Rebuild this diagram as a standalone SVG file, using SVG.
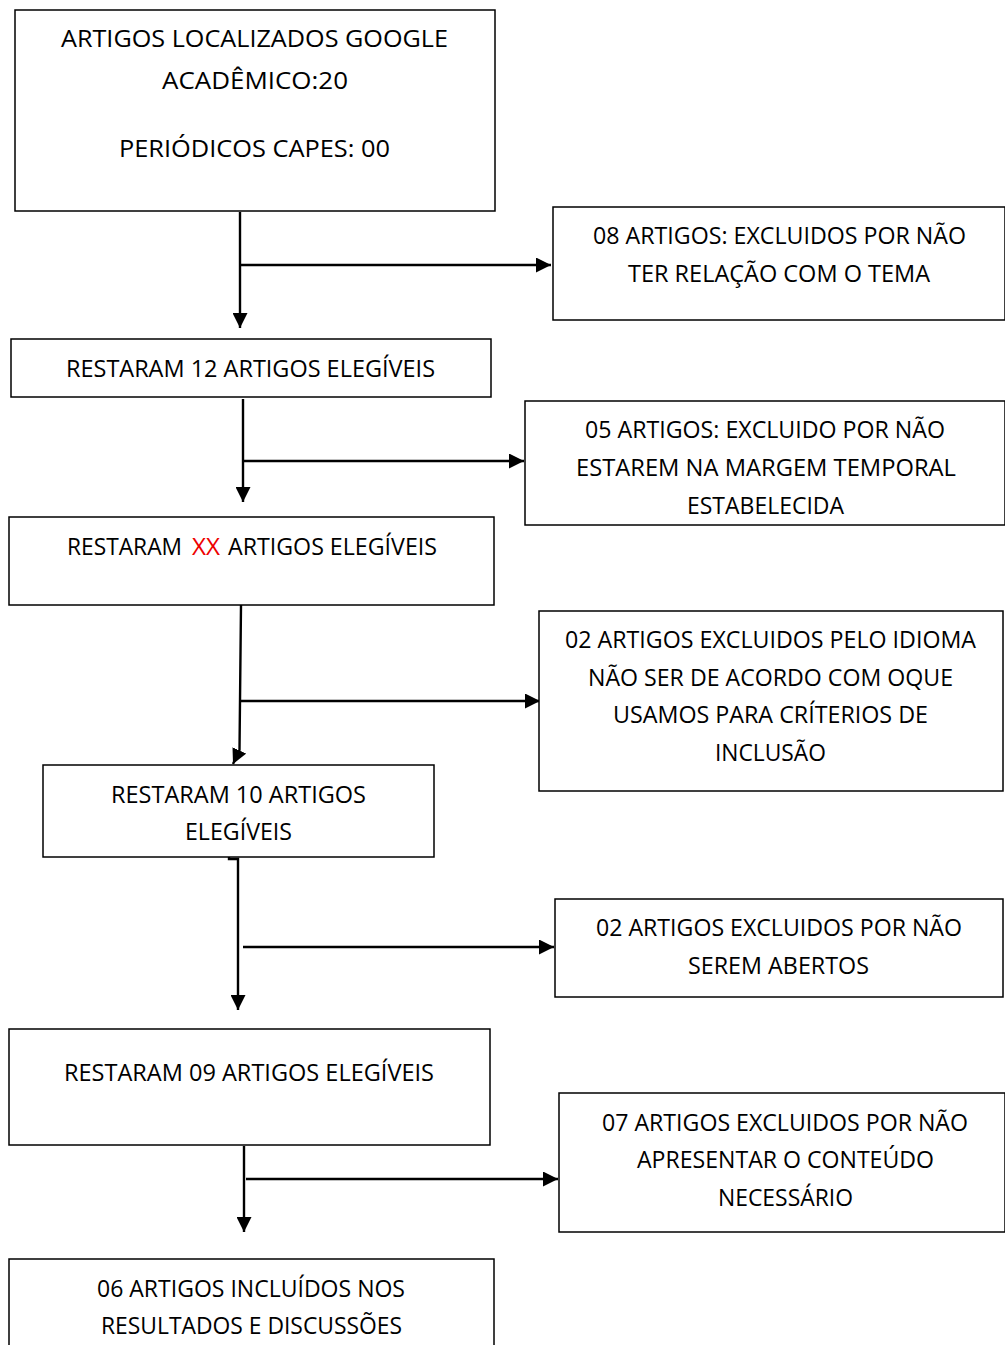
<svg xmlns="http://www.w3.org/2000/svg" width="1005" height="1345" viewBox="0 0 1005 1345">
<defs>
<style>
.box{fill:#fff;stroke:#000;stroke-width:1.5}
.t{font-family:"Open Sans","Liberation Sans",sans-serif;font-size:24.5px;fill:#000;text-anchor:middle}
.s{text-anchor:start}
.red{fill:#e00}
.c{stroke:#000;stroke-width:2.4;fill:none}
</style>
<marker id="ah" viewBox="0 0 10 10" refX="10" refY="5" markerWidth="15" markerHeight="15" markerUnits="userSpaceOnUse" orient="auto">
<path d="M0,0 L10,5 L0,10 z" fill="#000"/>
</marker>
</defs>
<rect width="1005" height="1345" fill="#fff"/>
<g id="connectors">
<line class="c" x1="240" y1="212" x2="240" y2="328" marker-end="url(#ah)"/>
<line class="c" x1="240" y1="265" x2="551" y2="265" marker-end="url(#ah)"/>
<line class="c" x1="243" y1="399" x2="243" y2="502" marker-end="url(#ah)"/>
<line class="c" x1="243" y1="461" x2="524" y2="461" marker-end="url(#ah)"/>
<path class="c" d="M241,605 L239.5,750 L233,764" marker-end="url(#ah)"/>
<line class="c" x1="241" y1="701" x2="540" y2="701" marker-end="url(#ah)"/>
<polyline class="c" points="229,852 229,859 238,859 238,1010" marker-end="url(#ah)"/>
<line class="c" x1="243" y1="947" x2="554" y2="947" marker-end="url(#ah)"/>
<line class="c" x1="244" y1="1146" x2="244" y2="1232" marker-end="url(#ah)"/>
<line class="c" x1="246" y1="1179" x2="558" y2="1179" marker-end="url(#ah)"/>
</g>
<g id="n1"><rect class="box" x="15" y="10" width="480" height="201"/>
<text class="t" x="254.5" y="47" textLength="387" lengthAdjust="spacingAndGlyphs">ARTIGOS LOCALIZADOS GOOGLE</text>
<text class="t" x="255" y="89" textLength="186" lengthAdjust="spacingAndGlyphs">ACADÊMICO:20</text>
<text class="t" x="254.5" y="157" textLength="271" lengthAdjust="spacingAndGlyphs">PERIÓDICOS CAPES: 00</text></g>
<g id="n2"><rect class="box" x="553" y="207" width="452" height="113"/>
<text class="t" x="779.5" y="244" textLength="373" lengthAdjust="spacingAndGlyphs">08 ARTIGOS: EXCLUIDOS POR NÃO</text>
<text class="t" x="779" y="282" textLength="302" lengthAdjust="spacingAndGlyphs">TER RELAÇÃO COM O TEMA</text></g>
<g id="n3"><rect class="box" x="11" y="339" width="480" height="58"/>
<text class="t" x="250.5" y="377" textLength="369" lengthAdjust="spacingAndGlyphs">RESTARAM 12 ARTIGOS ELEGÍVEIS</text></g>
<g id="n4"><rect class="box" x="525" y="401" width="480" height="124"/>
<text class="t" x="765" y="438" textLength="360" lengthAdjust="spacingAndGlyphs">05 ARTIGOS: EXCLUIDO POR NÃO</text>
<text class="t" x="766" y="476" textLength="380" lengthAdjust="spacingAndGlyphs">ESTAREM NA MARGEM TEMPORAL</text>
<text class="t" x="765.5" y="514" textLength="157" lengthAdjust="spacingAndGlyphs">ESTABELECIDA</text></g>
<g id="n5"><rect class="box" x="9" y="517" width="485" height="88"/>
<text class="t s" x="67" y="555" textLength="115" lengthAdjust="spacingAndGlyphs">RESTARAM</text>
<text class="t s red" x="192" y="555" textLength="28" lengthAdjust="spacingAndGlyphs">XX</text>
<text class="t s" x="228" y="555" textLength="209" lengthAdjust="spacingAndGlyphs">ARTIGOS ELEGÍVEIS</text></g>
<g id="n6"><rect class="box" x="539" y="611" width="464" height="180"/>
<text class="t" x="770.5" y="648" textLength="411" lengthAdjust="spacingAndGlyphs">02 ARTIGOS EXCLUIDOS PELO IDIOMA</text>
<text class="t" x="770.5" y="686" textLength="365" lengthAdjust="spacingAndGlyphs">NÃO SER DE ACORDO COM OQUE</text>
<text class="t" x="770.5" y="723" textLength="315" lengthAdjust="spacingAndGlyphs">USAMOS PARA CRÍTERIOS DE</text>
<text class="t" x="770.5" y="761" textLength="111" lengthAdjust="spacingAndGlyphs">INCLUSÃO</text></g>
<g id="n7"><rect class="box" x="43" y="765" width="391" height="92"/>
<text class="t" x="238.5" y="803" textLength="255" lengthAdjust="spacingAndGlyphs">RESTARAM 10 ARTIGOS</text>
<text class="t" x="238.5" y="840" textLength="107" lengthAdjust="spacingAndGlyphs">ELEGÍVEIS</text></g>
<g id="n8"><rect class="box" x="555" y="899" width="448" height="98"/>
<text class="t" x="779" y="936" textLength="366" lengthAdjust="spacingAndGlyphs">02 ARTIGOS EXCLUIDOS POR NÃO</text>
<text class="t" x="778.5" y="974" textLength="181" lengthAdjust="spacingAndGlyphs">SEREM ABERTOS</text></g>
<g id="n9"><rect class="box" x="9" y="1029" width="481" height="116"/>
<text class="t" x="249" y="1081" textLength="370" lengthAdjust="spacingAndGlyphs">RESTARAM 09 ARTIGOS ELEGÍVEIS</text></g>
<g id="n10"><rect class="box" x="559" y="1093" width="446" height="139"/>
<text class="t" x="785" y="1131" textLength="366" lengthAdjust="spacingAndGlyphs">07 ARTIGOS EXCLUIDOS POR NÃO</text>
<text class="t" x="785.5" y="1168" textLength="297" lengthAdjust="spacingAndGlyphs">APRESENTAR O CONTEÚDO</text>
<text class="t" x="785.5" y="1206" textLength="135" lengthAdjust="spacingAndGlyphs">NECESSÁRIO</text></g>
<g id="n11"><rect class="box" x="9" y="1259" width="485" height="100"/>
<text class="t" x="251" y="1297" textLength="308" lengthAdjust="spacingAndGlyphs">06 ARTIGOS INCLUÍDOS NOS</text>
<text class="t" x="251.5" y="1334" textLength="301" lengthAdjust="spacingAndGlyphs">RESULTADOS E DISCUSSÕES</text></g>
</svg>
